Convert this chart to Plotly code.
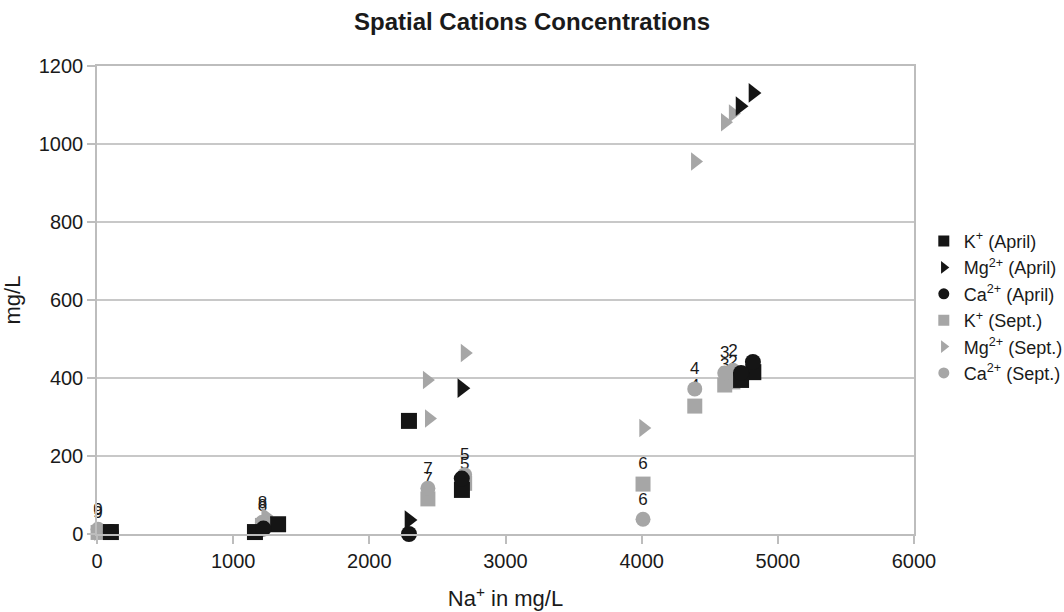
import plotly.graph_objects as go

# ---- data ----
site_labels = ["2", "3", "4", "5", "6", "7", "8", "9"]

# September series (gray) - labelled by site
na_sept = [4670, 4610, 4390, 2700, 4010, 2430, 1215, 8]
k_sept = [390, 382, 328, 130, 128, 90, 22, 4]
ca_sept = [420, 413, 372, 152, 38, 117, 30, 12]

na_sept_mg = [4670, 4612, 4392, 2701, 4012, 2423, 2438, 1237, 10]
mg_sept = [1078, 1056, 955, 464, 272, 395, 296, 46, 6]

# April series (black)
na_april_k = [4820, 4730, 2680, 2291, 1330, 1160, 102]
k_april = [415, 395, 113, 290, 25, 5, 5]

na_april_mg = [4817, 4722, 2679, 2291]
mg_april = [1131, 1097, 374, 36]

na_april_ca = [4817, 4730, 2679, 2291, 1222, 102]
ca_april = [441, 413, 142, 0, 14, 5]

x_ticks = [0, 1000, 2000, 3000, 4000, 5000, 6000]
y_ticks = [0, 200, 400, 600, 800, 1000, 1200]

BLACK = "#151515"
GRAY = "#a6a6a6"
FONT = "Liberation Sans, Arial, Helvetica, sans-serif"

fig = go.Figure()

label_font = dict(family=FONT, size=17, color="#1a1a1a")

# Sept traces first (drawn underneath)
fig.add_trace(go.Scatter(x=na_sept, y=k_sept, mode="markers+text", text=site_labels,
                         textposition="top center", textfont=label_font,
                         marker=dict(symbol="square", size=15, color=GRAY),
                         showlegend=False, cliponaxis=False))
fig.add_trace(go.Scatter(x=na_sept_mg, y=mg_sept, mode="markers",
                         marker=dict(symbol="triangle-right", size=16, color=GRAY),
                         showlegend=False, cliponaxis=False))
fig.add_trace(go.Scatter(x=na_sept, y=ca_sept, mode="markers+text", text=site_labels,
                         textposition="top center", textfont=label_font,
                         marker=dict(symbol="circle", size=15, color=GRAY),
                         showlegend=False, cliponaxis=False))
# April traces on top
fig.add_trace(go.Scatter(x=na_april_k, y=k_april, mode="markers",
                         marker=dict(symbol="square", size=16, color=BLACK),
                         showlegend=False, cliponaxis=False))
fig.add_trace(go.Scatter(x=na_april_mg, y=mg_april, mode="markers",
                         marker=dict(symbol="triangle-right", size=17, color=BLACK),
                         showlegend=False, cliponaxis=False))
fig.add_trace(go.Scatter(x=na_april_ca, y=ca_april, mode="markers",
                         marker=dict(symbol="circle", size=16, color=BLACK),
                         showlegend=False, cliponaxis=False))

# legend entries
legend_items = [
    ("K<sup>+</sup> (April)", "square", BLACK),
    ("Mg<sup>2+</sup> (April)", "triangle-right", BLACK),
    ("Ca<sup>2+</sup> (April)", "circle", BLACK),
    ("K<sup>+</sup> (Sept.)", "square", GRAY),
    ("Mg<sup>2+</sup> (Sept.)", "triangle-right", GRAY),
    ("Ca<sup>2+</sup> (Sept.)", "circle", GRAY),
]
for name, sym, col in legend_items:
    fig.add_trace(go.Scatter(x=[None], y=[None], mode="markers", name=name,
                             marker=dict(symbol=sym, size=11, color=col)))

axis_common = dict(
    showline=True, linecolor="#bdbdbd", linewidth=1.5, mirror=True,
    ticks="outside", tickcolor="#bdbdbd", ticklen=8, tickwidth=1.5,
    tickfont=dict(family=FONT, size=20, color="#1a1a1a"),
    zeroline=False,
)

fig.update_layout(
    width=1064, height=612,
    margin=dict(l=97, r=150, t=66, b=78, autoexpand=False),
    paper_bgcolor="white", plot_bgcolor="white",
    font=dict(family=FONT, color="#1a1a1a"),
    title=dict(text="<b>Spatial Cations Concentrations</b>", x=0.5, xref="container",
               xanchor="center", y=1 - 22 / 612, yref="container", yanchor="middle",
               font=dict(family=FONT, size=24, color="#1a1a1a")),
    xaxis=dict(range=[0, 6000], tickvals=x_ticks, showgrid=False,
               title=dict(text="Na<sup>+</sup> in mg/L", font=dict(family=FONT, size=22),
                          standoff=20),
               **axis_common),
    yaxis=dict(range=[0, 1200], tickvals=y_ticks, showgrid=True, gridcolor="#c8c8c8",
               gridwidth=1.5,
               title=dict(text="mg/L", font=dict(family=FONT, size=22), standoff=14),
               **axis_common),
    legend=dict(x=1.012, xanchor="left", y=0.665, yanchor="top",
                font=dict(family=FONT, size=18, color="#1a1a1a"),
                itemwidth=30, tracegroupgap=0, bgcolor="rgba(0,0,0,0)"),
)

fig.write_html("out.html")
